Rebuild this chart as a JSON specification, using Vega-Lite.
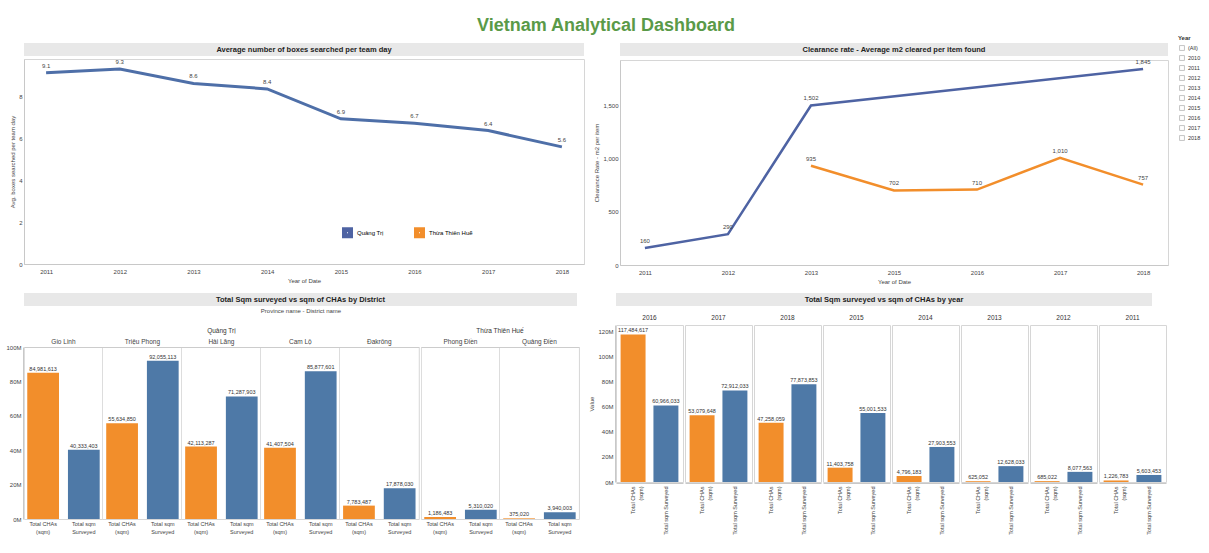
{
  "$schema": "https://vega.github.io/schema/vega-lite/v6.json",
  "background": "white",
  "padding": {"left": 5, "top": 17, "right": 2, "bottom": 2},
  "title": {"text": "Vietnam Analytical Dashboard", "fontSize": 18, "fontWeight": "bold", "color": "#5a9a48", "anchor": "middle", "offset": 0, "font": "Liberation Sans"},
  "resolve": {"scale": {"color": "independent"}, "legend": {"color": "independent"}},
  "datasets": {
    "boxes": [
      {"year": 2011, "value": 9.14}, {"year": 2012, "value": 9.32}, {"year": 2013, "value": 8.63}, {"year": 2014, "value": 8.37},
      {"year": 2015, "value": 6.94}, {"year": 2016, "value": 6.73}, {"year": 2017, "value": 6.38}, {"year": 2018, "value": 5.6}
    ],
    "clearance": [
      {"province": "Quảng Trị", "year": 2011, "value": 160},
      {"province": "Quảng Trị", "year": 2012, "value": 290},
      {"province": "Quảng Trị", "year": 2013, "value": 1502},
      {"province": "Quảng Trị", "year": 2018, "value": 1845},
      {"province": "Thừa Thiên Huế", "year": 2013, "value": 935},
      {"province": "Thừa Thiên Huế", "year": 2015, "value": 702},
      {"province": "Thừa Thiên Huế", "year": 2016, "value": 710},
      {"province": "Thừa Thiên Huế", "year": 2017, "value": 1010},
      {"province": "Thừa Thiên Huế", "year": 2018, "value": 757}
    ],
    "district": [
      {"province": "Quảng Trị", "district": "Gio Linh", "measure": "Total CHAs\n(sqm)", "value": 84981613},
      {"province": "Quảng Trị", "district": "Gio Linh", "measure": "Total sqm\nSurveyed", "value": 40333403},
      {"province": "Quảng Trị", "district": "Triệu Phong", "measure": "Total CHAs\n(sqm)", "value": 55634850},
      {"province": "Quảng Trị", "district": "Triệu Phong", "measure": "Total sqm\nSurveyed", "value": 92055113},
      {"province": "Quảng Trị", "district": "Hải Lăng", "measure": "Total CHAs\n(sqm)", "value": 42113287},
      {"province": "Quảng Trị", "district": "Hải Lăng", "measure": "Total sqm\nSurveyed", "value": 71287903},
      {"province": "Quảng Trị", "district": "Cam Lộ", "measure": "Total CHAs\n(sqm)", "value": 41407504},
      {"province": "Quảng Trị", "district": "Cam Lộ", "measure": "Total sqm\nSurveyed", "value": 85877601},
      {"province": "Quảng Trị", "district": "Đakrông", "measure": "Total CHAs\n(sqm)", "value": 7783487},
      {"province": "Quảng Trị", "district": "Đakrông", "measure": "Total sqm\nSurveyed", "value": 17878030},
      {"province": "Thừa Thiên Huế", "district": "Phong Điền", "measure": "Total CHAs\n(sqm)", "value": 1186483},
      {"province": "Thừa Thiên Huế", "district": "Phong Điền", "measure": "Total sqm\nSurveyed", "value": 5310020},
      {"province": "Thừa Thiên Huế", "district": "Quảng Điền", "measure": "Total CHAs\n(sqm)", "value": 375020},
      {"province": "Thừa Thiên Huế", "district": "Quảng Điền", "measure": "Total sqm\nSurveyed", "value": 3940003}
    ],
    "yearly": [
      {"year": 2016, "measure": "Total CHAs\n(sqm)", "value": 117484617},
      {"year": 2016, "measure": "Total sqm\nSurveyed", "value": 60966033},
      {"year": 2017, "measure": "Total CHAs\n(sqm)", "value": 53079648},
      {"year": 2017, "measure": "Total sqm\nSurveyed", "value": 72912033},
      {"year": 2018, "measure": "Total CHAs\n(sqm)", "value": 47258059},
      {"year": 2018, "measure": "Total sqm\nSurveyed", "value": 77873853},
      {"year": 2015, "measure": "Total CHAs\n(sqm)", "value": 11403758},
      {"year": 2015, "measure": "Total sqm\nSurveyed", "value": 55001533},
      {"year": 2014, "measure": "Total CHAs\n(sqm)", "value": 4796183},
      {"year": 2014, "measure": "Total sqm\nSurveyed", "value": 27903553},
      {"year": 2013, "measure": "Total CHAs\n(sqm)", "value": 625052},
      {"year": 2013, "measure": "Total sqm\nSurveyed", "value": 12628033},
      {"year": 2012, "measure": "Total CHAs\n(sqm)", "value": 685022},
      {"year": 2012, "measure": "Total sqm\nSurveyed", "value": 8077563},
      {"year": 2011, "measure": "Total CHAs\n(sqm)", "value": 1226783},
      {"year": 2011, "measure": "Total sqm\nSurveyed", "value": 5603453}
    ],
    "years": [
      {"item": "(All)"}, {"item": "2010"}, {"item": "2011"}, {"item": "2012"}, {"item": "2013"},
      {"item": "2014"}, {"item": "2015"}, {"item": "2016"}, {"item": "2017"}, {"item": "2018"}
    ]
  },
  "spacing": 8,
  "vconcat": [
    {
      "spacing": 8,
      "hconcat": [
        {
          "spacing": 2,
          "vconcat": [
            {
              "width": 560, "height": 13,
              "view": {"fill": "#e8e8e8", "stroke": null},
              "data": {"values": [{"t": "Average number of boxes searched per team day"}]},
              "mark": {"type": "text", "fontSize": 7.5, "fontWeight": "bold", "color": "#222"},
              "encoding": {"text": {"field": "t"}}
            },
            {
              "width": 560, "height": 205,
              "data": {"name": "boxes"},
              "encoding": {
                "x": {"field": "year", "type": "ordinal", "scale": {"type": "point", "padding": 0.3},
                      "axis": {"title": "Year of Date", "labelAngle": 0, "ticks": false, "labelPadding": 4}},
                "y": {"field": "value", "type": "quantitative", "scale": {"domain": [0, 9.8], "nice": false},
                      "axis": {"values": [0, 2, 4, 6, 8], "title": "Avg. boxes searched per team day", "grid": false, "ticks": false}}
              },
              "layer": [
                {"mark": {"type": "line", "strokeWidth": 3, "color": "#4e6fa8"}},
                {"mark": {"type": "text", "dy": -7, "fontSize": 6, "color": "#444"},
                 "encoding": {"text": {"field": "value", "type": "quantitative", "format": ".1f"}}}
              ]
            }
          ]
        },
        {
          "spacing": 2,
          "vconcat": [
            {
              "width": 548, "height": 13,
              "view": {"fill": "#e8e8e8", "stroke": null},
              "data": {"values": [{"t": "Clearance rate - Average m2 cleared per item found"}]},
              "mark": {"type": "text", "fontSize": 7.5, "fontWeight": "bold", "color": "#222"},
              "encoding": {"text": {"field": "t"}}
            },
            {
              "width": 548, "height": 205,
              "data": {"name": "clearance"},
              "encoding": {
                "x": {"field": "year", "type": "ordinal", "scale": {"type": "point", "padding": 0.3},
                      "axis": {"title": "Year of Date", "labelAngle": 0, "ticks": false, "labelPadding": 4}},
                "y": {"field": "value", "type": "quantitative", "scale": {"domain": [0, 1930], "nice": false},
                      "axis": {"values": [0, 500, 1000, 1500], "title": "Clearance Rate - m2 per item", "grid": false, "ticks": false}}
              },
              "layer": [
                {"mark": {"type": "line", "strokeWidth": 2.5},
                 "encoding": {"color": {"field": "province", "type": "nominal",
                   "scale": {"domain": ["Quảng Trị", "Thừa Thiên Huế"], "range": ["#4e63a3", "#f28e2b"]},
                   "legend": {"orient": "none", "legendX": 318, "legendY": 184, "direction": "horizontal", "title": null,
                              "symbolType": "square", "symbolSize": 36, "symbolStrokeWidth": 5, "labelFontSize": 6, "columnPadding": 22}}}},
                {"mark": {"type": "text", "dy": -7, "fontSize": 6, "color": "#444"},
                 "encoding": {"text": {"field": "value", "type": "quantitative", "format": ","}}}
              ]
            }
          ]
        },
        {
          "width": 24, "height": 100,
          "title": {"text": "Year", "fontSize": 6, "fontWeight": "bold", "anchor": "start", "offset": 2, "color": "#333"},
          "view": {"stroke": null},
          "data": {"name": "years"},
          "encoding": {
            "y": {"field": "item", "type": "ordinal", "sort": null, "axis": null},
            "x": {"datum": 0, "type": "quantitative", "scale": {"domain": [0, 1]}, "axis": null}
          },
          "layer": [
            {"mark": {"type": "square", "size": 24, "filled": false, "color": "#999", "strokeWidth": 0.8}},
            {"mark": {"type": "text", "align": "left", "dx": 6, "fontSize": 5.5, "color": "#333"},
             "encoding": {"text": {"field": "item"}}}
          ]
        }
      ]
    },
    {
      "spacing": 8,
      "hconcat": [
        {
          "spacing": 2,
          "vconcat": [
            {
              "width": 553, "height": 13,
              "view": {"fill": "#e8e8e8", "stroke": null},
              "data": {"values": [{"t": "Total Sqm surveyed vs sqm of CHAs by District"}]},
              "mark": {"type": "text", "fontSize": 7.5, "fontWeight": "bold", "color": "#222"},
              "encoding": {"text": {"field": "t"}}
            },
            {
              "data": {"name": "district"},
              "facet": {"column": {"field": "province", "type": "nominal", "sort": ["Quảng Trị", "Thừa Thiên Huế"],
                "header": {"title": "Province name - District name", "titleFontSize": 6, "titleFontWeight": "normal", "titleColor": "#444",
                           "titlePadding": 3, "labelFontSize": 6.5, "labelColor": "#333", "labelPadding": 3}}},
              "spacing": 0,
              "resolve": {"scale": {"x": "independent"}},
              "spec": {
                "width": {"step": 40.7},
                "height": 172,
                "encoding": {
                  "x": {"field": "district", "type": "nominal", "sort": null, "scale": {"paddingInner": 0, "paddingOuter": 0},
                        "axis": {"orient": "top", "title": null, "labelAngle": 0, "ticks": false, "domain": true, "domainColor": "#ccc",
                                 "grid": true, "gridColor": "#ddd", "bandPosition": 0, "labelFontSize": 6.5, "labelPadding": 3}},
                  "xOffset": {"field": "measure", "type": "nominal", "sort": ["Total CHAs\n(sqm)", "Total sqm\nSurveyed"],
                              "scale": {"paddingInner": 0.22, "paddingOuter": 0.08}},
                  "y": {"field": "value", "type": "quantitative", "scale": {"domain": [0, 100000000], "nice": false},
                        "axis": {"values": [0, 20000000, 40000000, 60000000, 80000000, 100000000], "format": "~s", "title": null, "grid": false, "ticks": false}}
                },
                "layer": [
                  {"mark": {"type": "bar"},
                   "encoding": {"color": {"field": "measure", "type": "nominal",
                     "scale": {"domain": ["Total CHAs\n(sqm)", "Total sqm\nSurveyed"], "range": ["#f28e2b", "#4e79a7"]}, "legend": null}}},
                  {"mark": {"type": "text", "dy": -4, "fontSize": 5.5, "color": "#333"},
                   "encoding": {"text": {"field": "value", "type": "quantitative", "format": ","}}},
                  {"mark": {"type": "text", "baseline": "top", "dy": 3, "fontSize": 5.5, "lineBreak": "\n", "color": "#444"},
                   "encoding": {"y": {"datum": 0}, "text": {"field": "measure"}}}
                ]
              }
            }
          ]
        },
        {
          "spacing": 8,
          "vconcat": [
            {
              "width": 536, "height": 13,
              "view": {"fill": "#e8e8e8", "stroke": null},
              "data": {"values": [{"t": "Total Sqm surveyed vs sqm of CHAs by year"}]},
              "mark": {"type": "text", "fontSize": 7.5, "fontWeight": "bold", "color": "#222"},
              "encoding": {"text": {"field": "t"}}
            },
            {
              "data": {"name": "yearly"},
              "facet": {"column": {"field": "year", "type": "ordinal", "sort": [2016, 2017, 2018, 2015, 2014, 2013, 2012, 2011],
                "header": {"title": null, "labelFontSize": 6.5, "labelColor": "#333", "labelPadding": 3}}},
              "spacing": 0,
              "spec": {
                "width": 67,
                "height": 157,
                "encoding": {
                  "x": {"field": "measure", "type": "nominal", "sort": ["Total CHAs\n(sqm)", "Total sqm\nSurveyed"],
                        "scale": {"paddingInner": 0.24, "paddingOuter": 0.14},
                        "axis": {"title": null, "labelAngle": -90, "ticks": false, "labelFontSize": 5.5, "labelPadding": 3,
                                 "labelExpr": "datum.label == 'Total sqm\\nSurveyed' ? 'Total sqm Surveyed' : split(datum.label, '\\n')"}},
                  "y": {"field": "value", "type": "quantitative", "scale": {"domain": [0, 125000000], "nice": false},
                        "axis": {"values": [0, 20000000, 40000000, 60000000, 80000000, 100000000, 120000000], "format": "~s", "title": "Value", "grid": false, "ticks": false}}
                },
                "layer": [
                  {"mark": {"type": "bar"},
                   "encoding": {"color": {"field": "measure", "type": "nominal",
                     "scale": {"domain": ["Total CHAs\n(sqm)", "Total sqm\nSurveyed"], "range": ["#f28e2b", "#4e79a7"]}, "legend": null}}},
                  {"mark": {"type": "text", "dy": -4, "fontSize": 5.5, "color": "#333"},
                   "encoding": {"text": {"field": "value", "type": "quantitative", "format": ","}}}
                ]
              }
            }
          ]
        }
      ]
    }
  ],
  "config": {
    "font": "Liberation Sans",
    "view": {"stroke": "#d6d6d6"},
    "axis": {"labelFontSize": 6, "titleFontSize": 6, "labelColor": "#444", "titleColor": "#444", "titleFontWeight": "normal",
             "domainColor": "#c8c8c8", "tickColor": "#c8c8c8", "gridColor": "#e6e6e6", "titlePadding": 3, "labelPadding": 2},
    "header": {"labelFont": "Liberation Sans", "titleFont": "Liberation Sans"}
  }
}
